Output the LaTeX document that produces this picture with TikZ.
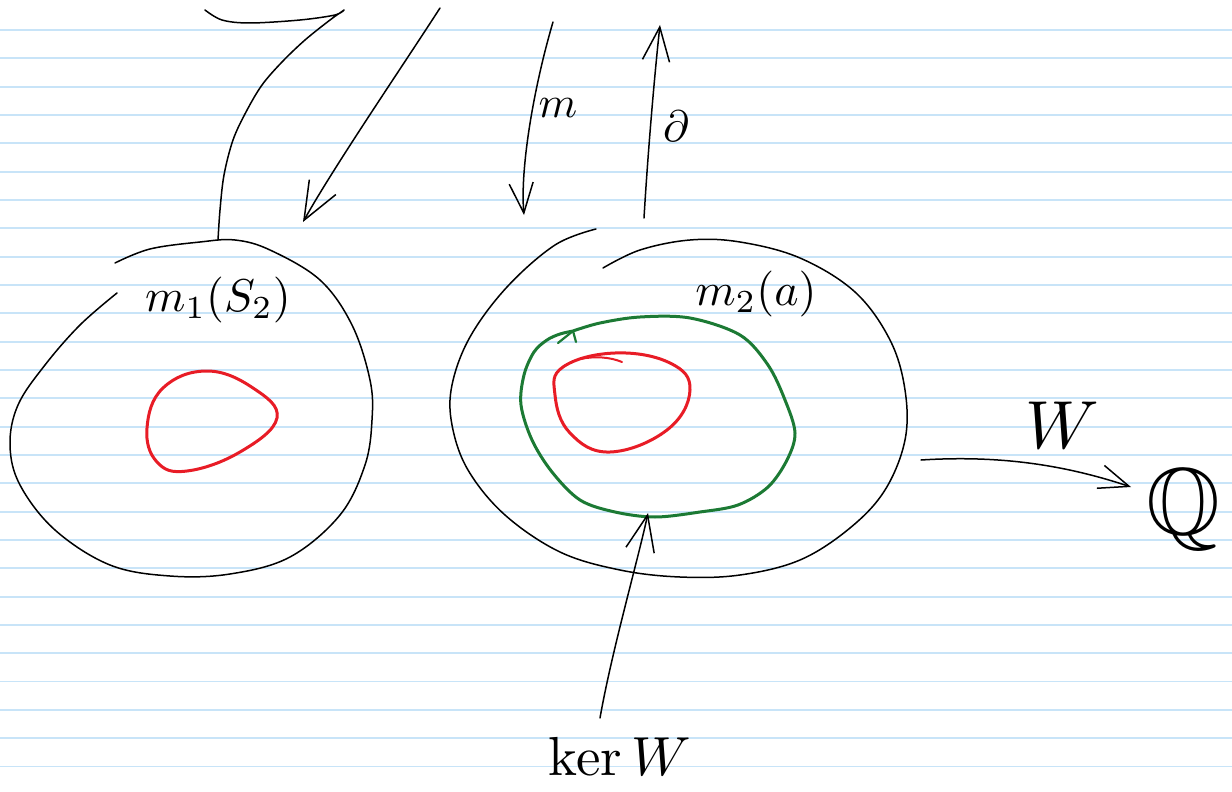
\documentclass[tikz,border=0pt]{standalone}
\usepackage{amssymb}
\usetikzlibrary{arrows.meta}

\definecolor{ruleblue}{RGB}{200,228,248}
\definecolor{inkgreen}{RGB}{28,122,52}
\definecolor{inkred}{RGB}{232,28,38}

\tikzset{
  ink/.style={black, line width=1.5pt, line cap=round, line join=round},
  greenink/.style={inkgreen, line width=3pt, line cap=round, line join=round},
  redink/.style={inkred, line width=3pt, line cap=round, line join=round},
  rule/.style={ruleblue, line width=1.8pt},
  lbl/.style={inner sep=0pt},
  barb/.style={-{Straight Barb[length=#1, width=0.8*#1, line width=1.5pt]}},
}

\begin{document}
\begin{tikzpicture}[x=1pt, y=-1pt]
  % page
  \fill[white] (0,0) rectangle (1232,792);
  \useasboundingbox (0,0) rectangle (1232,792);

  % ruled paper
  \foreach \k in {0,...,26} {
    \draw[rule] (0,{30+28.33*\k}) -- (1232,{30+28.33*\k});
  }

  % ---- left blob ----
  \draw[ink] plot[smooth, tension=0.6] coordinates {
    (115,263) (150,249) (200,242) (235,240) (270,250) (320,280)
    (352,325) (370,380) (372,420) (365,465) (340,515) (290,557)
    (230,574) (170,576) (110,565) (55,530) (20,485) (10,445)
    (18,405) (45,365) (80,325) (117,293)};
  \draw[redink] plot[smooth cycle, tension=0.7] coordinates {
    (207,371) (253,388) (277,418) (240,452) (187,471) (157,462)
    (147,428) (163,388)};

  % ---- right blob ----
  \draw[ink] plot[smooth, tension=0.6] coordinates {
    (603,268) (640,250) (690,240) (740,242) (800,258) (855,292)
    (890,340) (905,390) (905,440) (885,490) (850,528) (800,560)
    (740,575) (680,577) (620,570) (560,552) (505,515) (468,470)
    (452,425) (452,385) (470,337) (507,287) (555,245) (596,229)};
  \draw[greenink] plot[smooth, tension=0.55] coordinates {
    (573,331) (600,323) (640,317) (690,318) (740,335) (768,365)
    (785,400) (795,433) (787,460) (768,487) (738,505) (700,512)
    (655,517) (615,512) (580,500) (552,472) (532,440) (521,405)
    (524,375) (534,352) (547,340) (560,334) (573,331)};
  \draw[inkgreen, line width=2.2pt, line cap=round] (573,331) -- (558,343);
  \draw[inkgreen, line width=2.2pt, line cap=round] (573,331) -- (576,342);
  \draw[redink] plot[smooth cycle, tension=0.7] coordinates {
    (615,353) (670,363) (690,390) (667,430) (610,452) (570,433)
    (555,395) (563,367)};
  \draw[inkred, line width=2pt, line cap=round]
    (580,359) .. controls (595,356) and (610,357) .. (622,362);

  % ---- labels ----
  \node[lbl, scale=4.6] (mS) at (218,300) {$m_1(S_2)$};
  \node[lbl, scale=4.6] (ma) at (756,294) {$m_2(a)$};
  \node[lbl, scale=4.4] (lm) at (558,108) {$m$};
  \node[lbl, scale=4.4] (ld) at (676,126) {$\partial$};
  \node[lbl, scale=6.8] (lW) at (1062,425) {$W$};
  \node[lbl, scale=9.5] (Q) at (1183,510) {$\mathbb{Q}$};
  \node[lbl, scale=5.5] (ker) at (620,756) {$\ker W$};

  % ---- connectors ----
  \coordinate (sevenTop) at (205,10);
  \coordinate (leftTop) at (218,240);
  \draw[ink] plot[smooth, tension=0.55] coordinates {
    (205,10) (222,20) (250,23) (300,20) (335,15) (344,10)
    (330,20) (305,40) (282,62) (262,85) (246,112) (233,140)
    (224,175) (220,210) (218,240)};

  \coordinate (diagStart) at (440,8);
  \coordinate (diagEnd) at (303,222);
  \draw[ink, barb=38pt] (diagStart) .. controls (400,70) and (335,165) .. (diagEnd);

  \coordinate (downStart) at (553,22);
  \coordinate (downEnd) at (524,215);
  \draw[ink, barb=30pt] (downStart) .. controls (533,90) and (520,170) .. (downEnd);

  \coordinate (upStart) at (644,218);
  \coordinate (upEnd) at (660,25);
  \draw[ink, barb=34pt] (upStart) .. controls (648,150) and (655,70) .. (upEnd);

  \coordinate (wStart) at (921,460);
  \coordinate (wEnd) at (1131,487);
  \draw[ink, barb=30pt] (wStart) .. controls (1000,455) and (1065,465) .. (wEnd);

  \coordinate (kerStart) at (600,718);
  \coordinate (kerEnd) at (648,513);
  \draw[ink, barb=36pt] (kerStart) .. controls (612,650) and (638,560) .. (kerEnd);
\end{tikzpicture}
\end{document}
